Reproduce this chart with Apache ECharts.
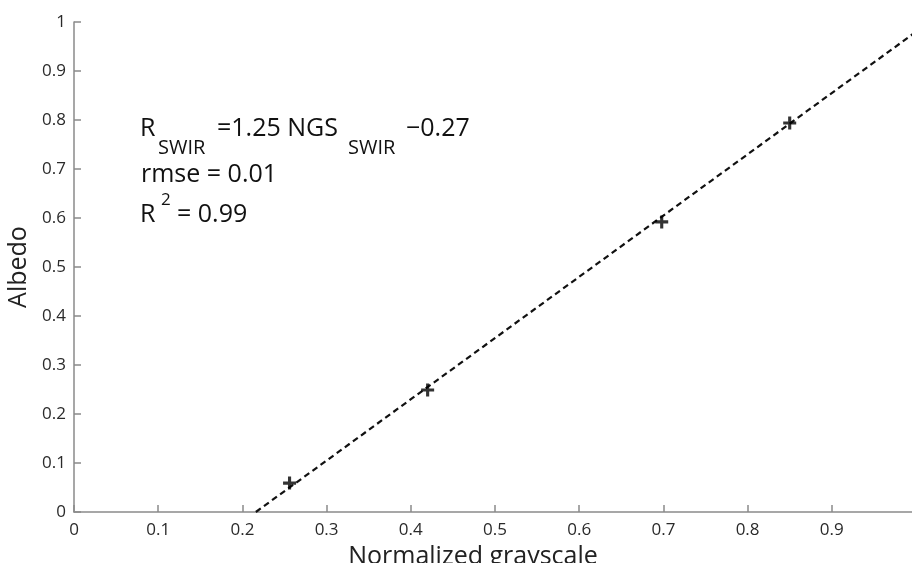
<!DOCTYPE html>
<html>
<head>
<meta charset="utf-8">
<script src="https://cdn.jsdelivr.net/npm/echarts@6/dist/echarts.min.js"></script>
<style>html,body{margin:0;padding:0;background:#fff;}#c{width:912px;height:563px;}</style>
</head>
<body>
<div id="c"></div>
<script>
// Measured points (normalized grayscale, albedo)
const pointsX = [0.256, 0.420, 0.698, 0.850];
const pointsY = [0.059, 0.249, 0.592, 0.794];
// Fitted regression line endpoints (R = 1.25 NGS - 0.27)
const fitX = [0.216, 1.0];
const fitY = [0.0, 0.98];
const xTicks = [0, 0.1, 0.2, 0.3, 0.4, 0.5, 0.6, 0.7, 0.8, 0.9, 1];
const yTicks = [0, 0.1, 0.2, 0.3, 0.4, 0.5, 0.6, 0.7, 0.8, 0.9, 1];
const xTitle = 'Normalized grayscale';
const yTitle = 'Albedo';

const FONT = '"Open Sans", "Noto Sans", sans-serif';
const chart = echarts.init(document.getElementById('c'), null, {renderer: 'canvas'});
const axisCommon = {
  type: 'value', min: 0, max: 1, interval: 0.1,
  axisLine: {show: true, lineStyle: {color: '#8a8a8a', width: 1.5}},
  axisTick: {show: true, inside: true, length: 7, lineStyle: {color: '#8a8a8a', width: 1.5}},
  splitLine: {show: false},
  axisLabel: {color: '#2a2a2a', fontSize: 17, fontFamily: FONT,
    formatter: v => String(Math.round(v * 10) / 10)}
};
const txt = (x, y, text, size) => ({type: 'text', x: x, y: y, silent: true,
  style: {text: text, fontSize: size, fontFamily: FONT, fill: '#111', textVerticalAlign: 'top'}});
chart.setOption({
  animation: false,
  grid: {left: 74, top: 22, width: 842, height: 490, containLabel: false, outerBoundsMode: 'none'},
  xAxis: Object.assign({}, axisCommon, {
    name: xTitle, nameLocation: 'middle', nameGap: 30,
    nameTextStyle: {fontSize: 25, color: '#222', fontFamily: FONT, padding: [0, 44, 0, 0]},
    axisLabel: Object.assign({}, axisCommon.axisLabel, {margin: 10})
  }),
  yAxis: Object.assign({}, axisCommon, {
    name: yTitle, nameLocation: 'middle', nameGap: 40,
    nameTextStyle: {fontSize: 25, color: '#222', fontFamily: FONT},
    axisLabel: Object.assign({}, axisCommon.axisLabel, {margin: 8})
  }),
  series: [
    {
      type: 'line', data: fitX.map((x, i) => [x, fitY[i]]),
      symbol: 'none', lineStyle: {color: '#111', width: 2.2, type: [6, 4]}, z: 2
    },
    {
      type: 'scatter', data: pointsX.map((x, i) => [x, pointsY[i]]),
      symbol: 'path://M3.8,0H6.2V3.8H10V6.2H6.2V10H3.8V6.2H0V3.8H3.8Z', symbolSize: 13,
      itemStyle: {color: '#000'}, z: 3
    }
  ],
  graphic: [
    txt(140, 116, 'R', 25),
    txt(158, 138, 'SWIR', 20),
    txt(217, 116, '=1.25 NGS', 25),
    txt(348, 138, 'SWIR', 20),
    txt(406, 116, '−0.27', 25),
    txt(141, 162, 'rmse = 0.01', 25),
    txt(140, 202, 'R', 25),
    txt(161, 192, '2', 17),
    txt(177, 202, '= 0.99', 25)
  ]
});
</script>
</body>
</html>
